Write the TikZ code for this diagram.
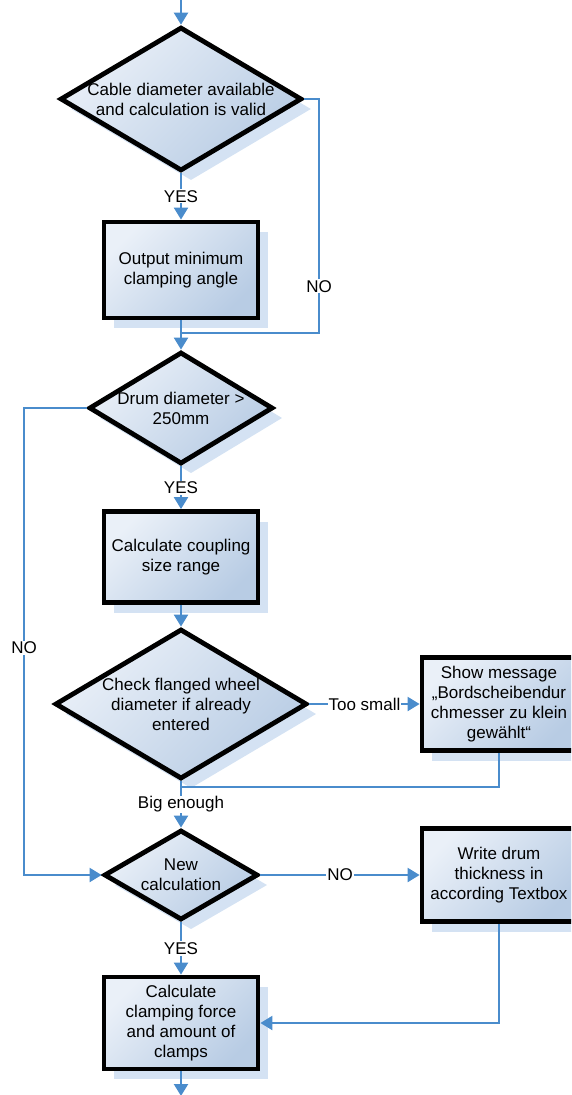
\documentclass[tikz,border=0pt]{standalone}
\usepackage{fontspec}
\setmainfont{Liberation Sans}
\usetikzlibrary{shapes.geometric, arrows.meta, shadows, positioning}
\definecolor{flowblue}{RGB}{74,140,204}
\definecolor{filllight}{RGB}{234,240,248}
\definecolor{filldark}{RGB}{184,204,228}
\definecolor{shadowblue}{RGB}{212,226,243}

\begin{document}
\begin{tikzpicture}[
    x=1pt, y=-1pt,
    base/.style={draw=black, line width=4.8pt, align=center, text centered, inner sep=0pt,
        font=\fontsize{17}{20}\selectfont,
        top color=filllight, bottom color=filldark, shading angle=45,
        drop shadow={shadow xshift=10pt, shadow yshift=-10pt, fill=shadowblue, opacity=1}},
    process/.style={base, rectangle, minimum width=154pt, minimum height=93pt},
    decision/.style={base, diamond},
    flow/.style={draw=flowblue, line width=2.2pt, -{Triangle[width=14pt,length=12pt]}},
    joint/.style={draw=flowblue, line width=2.2pt},
    answer/.style={fill=white, inner sep=1pt, font=\fontsize{17}{20}\selectfont}
]
    \path[use as bounding box, clip] (0,0) rectangle (571,1095);

    % Main column
    \node[decision, minimum width=238pt, minimum height=142pt, aspect=1.68] (cable) at (181,99) {Cable diameter available\\and calculation is valid};
    \node[process, minimum height=96pt] (output) at (181,270) {Output minimum\\clamping angle};
    \node[decision, minimum width=184pt, minimum height=112pt, aspect=1.64] (drum) at (181,408) {Drum diameter >\\250mm};
    \node[process, minimum height=91pt] (coupling) at (181,557) {Calculate coupling\\size range};
    \node[decision, minimum width=252pt, minimum height=150pt, aspect=1.68] (flange) at (181,704) {Check flanged wheel\\diameter if already\\entered};
    \node[decision, minimum width=154pt, minimum height=90pt, aspect=1.71] (newcalc) at (181,875) {New\\calculation};
    \node[process, minimum height=92pt] (clamps) at (181,1023) {Calculate\\clamping force\\and amount of\\clamps};

    % Right column
    \node[process] (message) at (499,704) {Show message\\„Bordscheibendur\\chmesser zu klein\\gewählt“};
    \node[process] (drumtext) at (499,875) {Write drum\\thickness in\\according Textbox};

    % Helper points
    \coordinate (start) at (181,-1);
    \coordinate (finish) at (181,1096);
    \coordinate (rightrail) at (319,333);
    \coordinate (merge1) at (181,333);
    \coordinate (leftrail) at (24,875);
    \coordinate (merge2) at (181,787);

    % Connectors
    \draw[flow] (start) -- (cable.north);
    \draw[flow] (cable.south) -- node[answer] {YES} (output.north);
    \draw[joint] (cable.east) -| node[answer, pos=0.9] {NO} (rightrail) -- (merge1);
    \draw[flow] (output.south) -- (drum.north);
    \draw[flow] (drum.west) -| node[answer, pos=0.757] {NO} (leftrail) -- (newcalc.west);
    \draw[flow] (drum.south) -- node[answer] {YES} (coupling.north);
    \draw[flow] (coupling.south) -- (flange.north);
    \draw[flow] (flange.east) -- node[answer] {Too small} (message.west);
    \draw[joint] (message.south) |- (merge2);
    \draw[flow] (flange.south) -- node[answer] {Big enough} (newcalc.north);
    \draw[flow] (newcalc.east) -- node[answer] {NO} (drumtext.west);
    \draw[flow] (newcalc.south) -- node[answer] {YES} (clamps.north);
    \draw[flow] (drumtext.south) |- (clamps.east);
    \draw[flow] (clamps.south) -- (finish);
\end{tikzpicture}
\end{document}
